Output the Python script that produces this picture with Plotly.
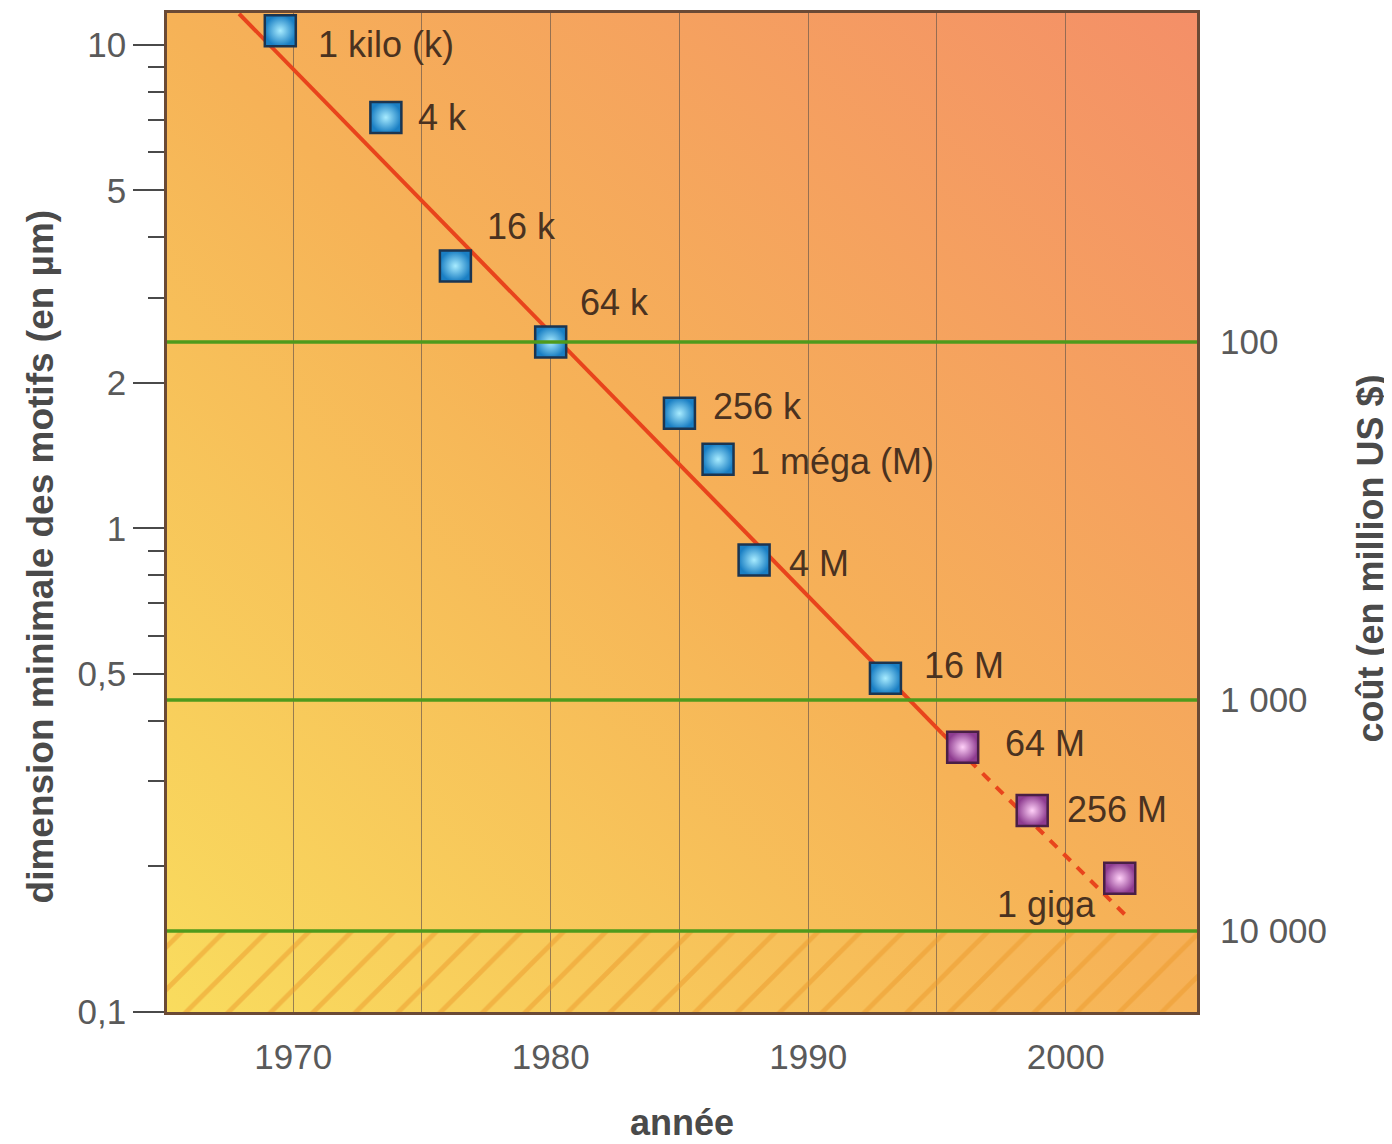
import base64
import math
import plotly.graph_objects as go

# ---------------- data ----------------
years = [1969.5, 1973.6, 1976.3, 1980.0, 1985.0, 1986.5, 1987.9, 1993.0, 1996.0, 1998.7, 2002.1]
feature_um = [10.7, 7.08, 3.49, 2.43, 1.73, 1.39, 0.861, 0.490, 0.353, 0.261, 0.189]
chip_labels = ["1 kilo (k)", "4 k", "16 k", "64 k", "256 k", "1 méga (M)", "4 M",
               "16 M", "64 M", "256 M", "1 giga"]
generation = ["réalisé"] * 8 + ["prévu"] * 3

trend_years_solid = [1967.9, 1995.2]
trend_um_solid = [11.6, 0.377]
trend_years_dashed = [1995.2, 2002.3]
trend_um_dashed = [0.377, 0.159]

cost_labels = ["100", "1 000", "10 000"]
cost_level_um = [2.43, 0.442, 0.147]

x_tick_years = [1970, 1980, 1990, 2000]
x_tick_text = ["1970", "1980", "1990", "2000"]
x_minor_years = [1975, 1985, 1995]
y_tick_vals = [0.1, 0.5, 1, 2, 5, 10]
y_tick_text = ["0,1", "0,5", "1", "2", "5", "10"]
y_minor_vals = [0.2, 0.3, 0.4, 0.6, 0.7, 0.8, 0.9, 3, 4, 6, 7, 8, 9]

# ---------------- style ----------------
X_RANGE = [1965.1, 2005.1]
Y_LOG_RANGE = [-1.0, 1.066]
FONT = "Liberation Sans, Arial, Helvetica, sans-serif"
TICK_GREY = "#5a5a5a"
TITLE_GREY = "#4a4a4a"
LABEL_BROWN = "#4a3220"
FRAME = "#6b4a35"
GRID = "rgba(110,90,75,0.7)"
GREEN = "#4f9a1c"
RED = "#e8441c"
HATCH = "#ec9a2c"
# (xshift px, yshift px, xanchor) per label
label_offsets = [(36, -14, "left"), (30, 0, "left"), (30, 39, "left"), (27, 40, "left"),
                 (32, 7, "left"), (30, -2, "left"), (33, -4, "left"), (37, 13, "left"),
                 (40, 4, "left"), (33, 1, "left"), (-22, -26, "right")]

svg = ('<svg xmlns="http://www.w3.org/2000/svg" width="100" height="100" viewBox="0 0 100 100" '
       'preserveAspectRatio="none"><defs><linearGradient id="g" x1="0" y1="1" x2="1" y2="0">'
       '<stop offset="0" stop-color="#f9dc5e"/><stop offset="0.5" stop-color="#f6b257"/>'
       '<stop offset="1" stop-color="#f48f68"/></linearGradient></defs>'
       '<rect width="100" height="100" fill="url(#g)"/></svg>')
bg_uri = "data:image/svg+xml;base64," + base64.b64encode(svg.encode()).decode()

fig = go.Figure()

# hatched zone below the 10 000 cost level
y_bottom = 10 ** Y_LOG_RANGE[0]
fig.add_trace(go.Scatter(
    x=[X_RANGE[0], X_RANGE[1], X_RANGE[1], X_RANGE[0], X_RANGE[0]],
    y=[y_bottom, y_bottom, cost_level_um[2], cost_level_um[2], y_bottom],
    mode="lines", fill="toself", line=dict(width=0), fillcolor="rgba(0,0,0,0)",
    fillpattern=dict(shape="/", fgcolor=HATCH, bgcolor="rgba(0,0,0,0)", size=30, solidity=0.16),
    hoverinfo="skip", showlegend=False))

# cost levels (green lines) on the right axis
for lvl in cost_level_um:
    fig.add_trace(go.Scatter(x=X_RANGE, y=[lvl, lvl], mode="lines",
                             line=dict(color=GREEN, width=3.5), yaxis="y2",
                             hoverinfo="skip", showlegend=False))

# trend line
fig.add_trace(go.Scatter(x=trend_years_solid, y=trend_um_solid, mode="lines",
                         line=dict(color=RED, width=4), showlegend=False))
fig.add_trace(go.Scatter(x=trend_years_dashed, y=trend_um_dashed, mode="lines",
                         line=dict(color=RED, width=4, dash="10px,9px"), showlegend=False))

# chips (marker colour = edge, gradient colour = centre)
styles = {
    "réalisé": dict(edge="#1a7fc4", centre="#a8ecff", line="#1c3550"),
    "prévu": dict(edge="#8e3c90", centre="#ffd0f8", line="#4a1f45"),
}
for gen, st in styles.items():
    xs = [x for x, g in zip(years, generation) if g == gen]
    ys = [y for y, g in zip(feature_um, generation) if g == gen]
    fig.add_trace(go.Scatter(
        x=xs, y=ys, mode="markers", name=gen, showlegend=False,
        marker=dict(symbol="square", size=31, color=st["edge"],
                    gradient=dict(type="radial", color=st["centre"]),
                    line=dict(color=st["line"], width=2.5))))

for x, y, lab, (dx, dy, anc) in zip(years, feature_um, chip_labels, label_offsets):
    fig.add_annotation(x=x, y=math.log10(y), yref="y", xref="x", text=lab, showarrow=False,
                       xanchor=anc, yanchor="middle", xshift=dx, yshift=dy,
                       font=dict(family=FONT, size=36, color=LABEL_BROWN))

# axis titles
fig.add_annotation(x=-0.1233, y=0.456, xref="paper", yref="paper", textangle=-90,
                   text="<b>dimension minimale des motifs (en µm)</b>", showarrow=False,
                   xanchor="center", yanchor="middle",
                   font=dict(family=FONT, size=37, color=TITLE_GREY))
fig.add_annotation(x=1.168, y=0.454, xref="paper", yref="paper", textangle=-90,
                   text="<b>coût (en million US $)</b>", showarrow=False,
                   xanchor="center", yanchor="middle",
                   font=dict(family=FONT, size=36, color=TITLE_GREY))
fig.add_annotation(x=0.5, y=-0.111, xref="paper", yref="paper",
                   text="<b>année</b>", showarrow=False, xanchor="center", yanchor="middle",
                   font=dict(family=FONT, size=36, color=TITLE_GREY))

fig.update_layout(
    width=1384, height=1136,
    margin=dict(l=159, r=195, t=2, b=132),
    paper_bgcolor="white", plot_bgcolor="rgba(0,0,0,0)",
    images=[dict(source=bg_uri, xref="paper", yref="paper", x=0, y=1, sizex=1, sizey=1,
                 xanchor="left", yanchor="top", sizing="stretch", layer="below")],
    xaxis=dict(range=X_RANGE, tickvals=x_tick_years, ticktext=x_tick_text, ticks="",
               ticklabelstandoff=12,
               showgrid=True, gridcolor=GRID, gridwidth=1.3, zeroline=False,
               minor=dict(tickvals=x_minor_years, showgrid=True, gridcolor=GRID, gridwidth=1.3,
                          ticks=""),
               showline=True, mirror=True, linecolor=FRAME, linewidth=2.5,
               tickfont=dict(family=FONT, size=35, color=TICK_GREY)),
    yaxis=dict(type="log", range=Y_LOG_RANGE, tickvals=y_tick_vals, ticktext=y_tick_text,
               ticks="outside", ticklen=31, tickwidth=2, tickcolor="#4a4a4a",
               showgrid=False, zeroline=False,
               minor=dict(tickvals=y_minor_vals, ticks="outside", ticklen=16, tickwidth=2,
                          tickcolor="#4a4a4a", showgrid=False),
               showline=True, mirror=True, linecolor=FRAME, linewidth=2.5,
               tickfont=dict(family=FONT, size=35, color=TICK_GREY)),
    yaxis2=dict(type="log", range=Y_LOG_RANGE, overlaying="y", side="right",
                tickvals=cost_level_um, ticktext=cost_labels, ticks="",
                ticklabelstandoff=22, showgrid=False, zeroline=False, showline=False,
                tickfont=dict(family=FONT, size=35, color=TICK_GREY)),
)

fig.write_html("out.html")
